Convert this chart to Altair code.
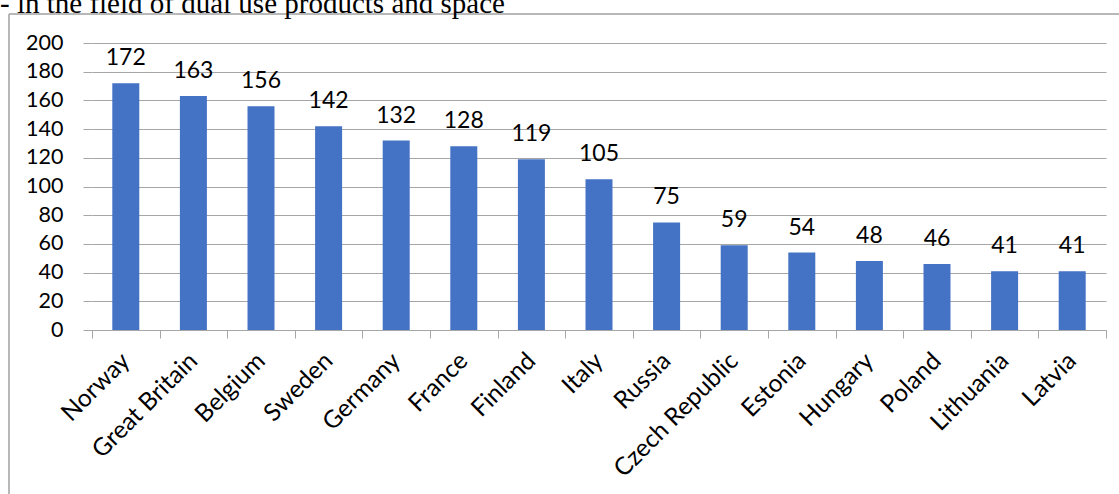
import altair as alt
import pandas as pd

# Number of entities per country
countries = ["Norway", "Great Britain", "Belgium", "Sweden", "Germany", "France",
             "Finland", "Italy", "Russia", "Czech Republic", "Estonia", "Hungary",
             "Poland", "Lithuania", "Latvia"]
counts = [172, 163, 156, 142, 132, 128, 119, 105, 75, 59, 54, 48, 46, 41, 41]
y_ticks = [0, 20, 40, 60, 80, 100, 120, 140, 160, 180, 200]
caption = "- in the field of dual use products and space"

df = pd.DataFrame({"country": countries, "count": counts})

FONT = "Lato"
GRID = "#a6a6a6"
BAR = "#4472c4"

x_enc = alt.X(
    "country:N",
    sort=countries,
    scale=alt.Scale(paddingInner=0, paddingOuter=0),
    axis=alt.Axis(
        title=None,
        labelAngle=-45,
        labelAlign="right",
        labelBaseline="middle",
        labelPadding=19,
        labelFont=FONT,
        labelFontSize=24.5,
        labelColor="#000000",
        labelOverlap=False,
        labelBound=False,
        tickBand="extent",
        tickSize=8,
        tickColor=GRID,
        domainColor=GRID,
        grid=False,
    ),
)
y_enc = alt.Y(
    "count:Q",
    scale=alt.Scale(domain=[0, 200], nice=False),
    axis=alt.Axis(
        title=None,
        values=y_ticks,
        labelFont=FONT,
        labelFontSize=21.5,
        labelColor="#000000",
        labelPadding=20,
        labelOverlap=False,
        tickSize=9,
        tickColor=GRID,
        gridColor=GRID,
        domain=False,
    ),
)

bars = alt.Chart(df).mark_bar(color=BAR, size=27).encode(x=x_enc, y=y_enc)

labels = alt.Chart(df).mark_text(
    font=FONT, fontSize=23, color="#000000", baseline="alphabetic", dy=-18
).encode(x=x_enc, y=y_enc, text="count:Q")

# Outer frame of the chart object (top and left edges; the rest runs off the page)
one = pd.DataFrame({"k": [0]})
frame_top = alt.Chart(one).mark_rule(stroke="#a0a0a0", strokeWidth=1.5).encode(
    x=alt.value(-83), x2=alt.value(1100), y=alt.value(-29)
)
frame_left = alt.Chart(one).mark_rule(stroke="#a0a0a0", strokeWidth=1.5).encode(
    x=alt.value(-83), y=alt.value(-29), y2=alt.value(600)
)

# Running text line above the frame
cap = alt.Chart(pd.DataFrame({"t": [caption]})).mark_text(
    font="Liberation Serif", fontSize=29, color="#000000",
    align="left", baseline="alphabetic"
).encode(x=alt.value(-92), y=alt.value(-30), text="t:N")

chart = alt.layer(frame_top, frame_left, bars, labels, cap).properties(
    width=1014,
    height=287,
    padding={"left": 92, "top": 43, "right": 13, "bottom": 164},
    autosize=alt.AutoSizeParams(type="none"),
).configure(background="#ffffff").configure_view(strokeWidth=0, stroke="transparent")

chart.save("out.html", embed_options={"renderer": "svg", "actions": False})
